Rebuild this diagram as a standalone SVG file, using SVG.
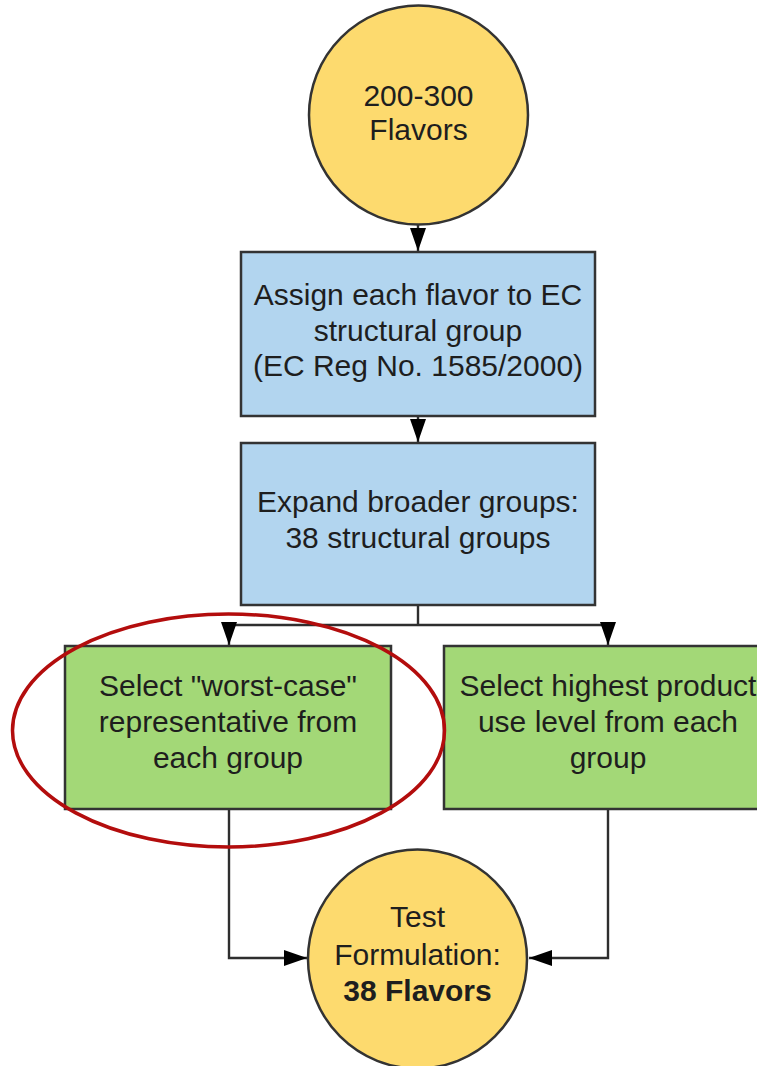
<svg xmlns="http://www.w3.org/2000/svg" width="757" height="1066" viewBox="0 0 757 1066">
<defs>
<style>
.lbl{font-family:"Liberation Sans",Arial,sans-serif;font-size:30px;fill:#1e1e1e;text-anchor:middle}
.b{font-weight:bold}
.node{stroke:#333;stroke-width:2.5}
.yel{fill:#fdda6e}
.blue{fill:#b2d5ef}
.green{fill:#a3d877}
.conn{fill:none;stroke:#2e2e2e;stroke-width:2.4}
</style>
<marker id="arr" markerUnits="userSpaceOnUse" markerWidth="23" markerHeight="16" refX="23" refY="8" orient="auto" viewBox="0 0 23 16">
<path d="M0,0 L23,8 L0,16 Z" fill="#000"/>
</marker>
</defs>
<rect width="757" height="1066" fill="#fff"/>
<g id="connectors">
<path class="conn" d="M418,224 L418,251" marker-end="url(#arr)"/>
<path class="conn" d="M418,416 L418,442" marker-end="url(#arr)"/>
<path class="conn" d="M418,605 L418,625"/>
<path class="conn" d="M418,625 L229,625 L229,645" marker-end="url(#arr)"/>
<path class="conn" d="M418,625 L608,625 L608,645" marker-end="url(#arr)"/>
<path class="conn" d="M229,809 L229,958 L307,958" marker-end="url(#arr)"/>
<path class="conn" d="M608,809 L608,958 L529,958" marker-end="url(#arr)"/>
</g>
<g id="start">
<circle class="node yel" cx="418.5" cy="115" r="109.5"/>
<text class="lbl" x="418.5" y="106">200-300</text>
<text class="lbl" x="418.5" y="140">Flavors</text>
</g>
<g id="assign">
<rect class="node blue" x="241" y="252" width="354" height="164"/>
<text class="lbl" x="418" y="305">Assign each flavor to EC</text>
<text class="lbl" x="418" y="341">structural group</text>
<text class="lbl" x="418" y="376">(EC Reg No. 1585/2000)</text>
</g>
<g id="expand">
<rect class="node blue" x="241" y="443" width="354" height="162"/>
<text class="lbl" x="418" y="512">Expand broader groups:</text>
<text class="lbl" x="418" y="548">38 structural groups</text>
</g>
<g id="worst">
<rect class="node green" x="65" y="646" width="326" height="163"/>
<text class="lbl" x="228" y="696">Select "worst-case"</text>
<text class="lbl" x="228" y="732">representative from</text>
<text class="lbl" x="228" y="768">each group</text>
</g>
<g id="highest">
<rect class="node green" x="444" y="646" width="328" height="163"/>
<text class="lbl" x="608" y="696">Select highest product</text>
<text class="lbl" x="608" y="732">use level from each</text>
<text class="lbl" x="608" y="768">group</text>
</g>
<g id="result">
<circle class="node yel" cx="417.5" cy="959" r="109.5"/>
<text class="lbl" x="417.5" y="927">Test</text>
<text class="lbl" x="417.5" y="965">Formulation:</text>
<text class="lbl b" x="417.5" y="1001">38 Flavors</text>
</g>
<g id="highlight">
<ellipse cx="228.5" cy="730.5" rx="216" ry="116.5" fill="none" stroke="#b30d0d" stroke-width="3.5"/>
</g>
</svg>
